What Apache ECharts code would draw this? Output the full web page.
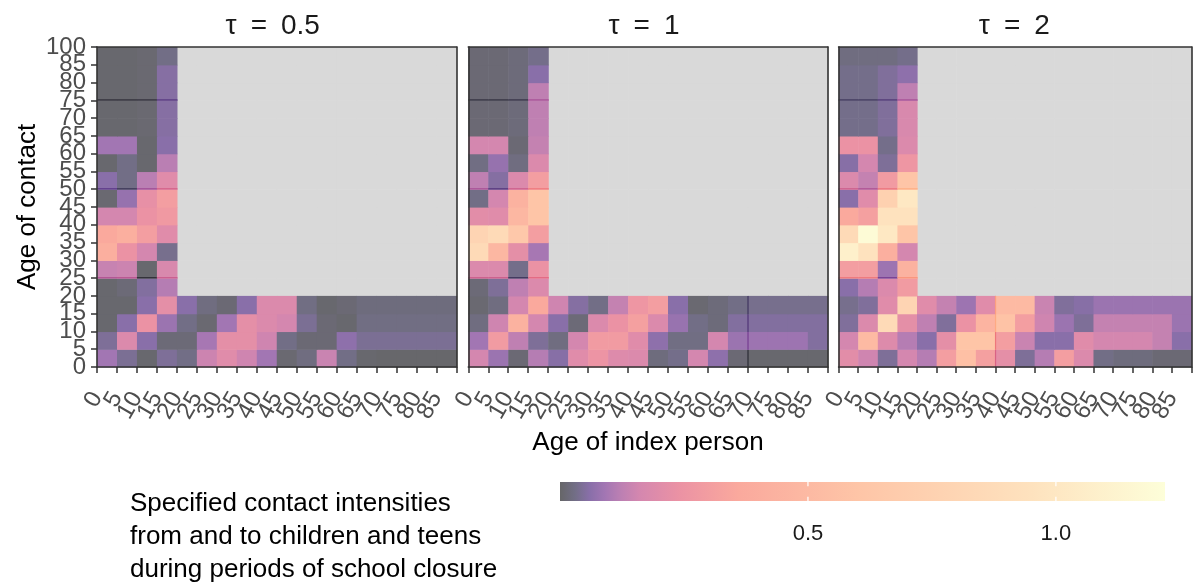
<!DOCTYPE html>
<html>
<head>
<meta charset="utf-8">
<script src="https://cdn.jsdelivr.net/npm/echarts@6/dist/echarts.min.js"></script>
<style>
  html, body { margin: 0; padding: 0; background: #ffffff; }
  #chart { width: 1193px; height: 585px; }
</style>
</head>
<body>
<div id="chart"></div>
<script>
// Tick labels: x = age of index person (5-year bands), y = age of contact (last band 85-100)
const xTickLabels = ['0','5','10','15','20','25','30','35','40','45','50','55','60','65','70','75','80','85'];
const yTickLabels = ['0','5','10','15','20','25','30','35','40','45','50','55','60','65','70','75','80','85','100'];
const panelTitles = ['\u03c4\u2002=\u20020.5', '\u03c4\u2002=\u20021', '\u03c4\u2002=\u20022'];
const legendBreaks = [0.5, 1.0];
const legendMax = 1.22;

// Contact intensities, index person aged 0-20 (columns 0,5,10,15), contact age band rows from 0 upwards
const tau05Left = [
  [0.090,0.042,0.006,0.045],
  [0.045,0.184,0.060,0.015],
  [0.006,0.060,0.240,0.081],
  [0.006,0.006,0.060,0.216],
  [0.006,0.015,0.051,0.114],
  [0.140,0.148,0.006,0.176],
  [0.408,0.240,0.160,0.036],
  [0.360,0.408,0.300,0.200],
  [0.160,0.160,0.240,0.276],
  [0.009,0.075,0.224,0.300],
  [0.060,0.030,0.120,0.200],
  [0.006,0.030,0.006,0.120],
  [0.090,0.090,0.006,0.060],
  [0.006,0.006,0.009,0.055],
  [0.006,0.006,0.009,0.055],
  [0.006,0.006,0.009,0.055],
  [0.006,0.006,0.009,0.055],
  [0.006,0.006,0.009,0.030]
];
// Contacts aged 0-20 (rows 0..3) of index persons aged 20..85
const tau05Bottom = [
  [0.030,0.148,0.200,0.152,0.090,0.009,0.024,0.144,0.030,0.006,0.003,0.003,0.003,0.003],
  [0.015,0.096,0.216,0.216,0.152,0.030,0.012,0.012,0.066,0.042,0.042,0.042,0.042,0.042],
  [0.030,0.009,0.090,0.216,0.184,0.160,0.042,0.012,0.006,0.027,0.027,0.027,0.027,0.027],
  [0.060,0.024,0.012,0.060,0.184,0.184,0.027,0.006,0.012,0.021,0.021,0.021,0.021,0.021]
];

const tau1Left = [
  [0.160,0.081,0.012,0.114],
  [0.090,0.288,0.128,0.045],
  [0.024,0.152,0.432,0.160],
  [0.009,0.024,0.160,0.360],
  [0.015,0.045,0.128,0.184],
  [0.184,0.184,0.033,0.240],
  [0.845,0.480,0.216,0.096],
  [0.775,0.845,0.635,0.300],
  [0.208,0.200,0.480,0.600],
  [0.030,0.160,0.432,0.600],
  [0.128,0.054,0.184,0.300],
  [0.027,0.075,0.024,0.184],
  [0.160,0.160,0.012,0.136],
  [0.012,0.012,0.018,0.128],
  [0.012,0.012,0.018,0.128],
  [0.012,0.012,0.018,0.128],
  [0.012,0.012,0.018,0.060],
  [0.012,0.012,0.018,0.033]
];
const tau1Bottom = [
  [0.057,0.200,0.252,0.192,0.184,0.021,0.033,0.160,0.066,0.012,0.006,0.006,0.006,0.006],
  [0.024,0.160,0.288,0.288,0.200,0.066,0.027,0.027,0.160,0.081,0.084,0.084,0.084,0.051],
  [0.060,0.015,0.184,0.240,0.312,0.184,0.078,0.030,0.018,0.051,0.051,0.051,0.051,0.051],
  [0.152,0.054,0.030,0.136,0.264,0.300,0.060,0.009,0.018,0.030,0.036,0.036,0.036,0.036]
];

const tau2Left = [
  [0.208,0.152,0.045,0.160],
  [0.160,0.504,0.192,0.114],
  [0.048,0.184,0.845,0.216],
  [0.036,0.048,0.200,0.775],
  [0.060,0.114,0.184,0.288],
  [0.300,0.300,0.084,0.432],
  [1.085,0.950,0.408,0.160],
  [0.845,1.193,1.004,0.600],
  [0.360,0.312,0.950,0.950],
  [0.060,0.200,0.740,1.004],
  [0.184,0.136,0.288,0.600],
  [0.057,0.160,0.045,0.264],
  [0.240,0.240,0.033,0.184],
  [0.033,0.033,0.048,0.176],
  [0.033,0.033,0.048,0.176],
  [0.033,0.033,0.048,0.128],
  [0.033,0.033,0.048,0.066],
  [0.024,0.024,0.024,0.033]
];
const tau2Bottom = [
  [0.114,0.300,0.552,0.312,0.216,0.045,0.114,0.300,0.184,0.030,0.021,0.021,0.012,0.012],
  [0.060,0.216,0.600,0.600,0.300,0.144,0.060,0.060,0.200,0.160,0.160,0.160,0.136,0.060],
  [0.128,0.048,0.240,0.456,0.576,0.300,0.152,0.081,0.045,0.136,0.136,0.136,0.136,0.081],
  [0.200,0.136,0.084,0.200,0.504,0.504,0.144,0.048,0.057,0.081,0.081,0.081,0.081,0.081]
];

const panels = [
  { left: tau05Left, bottom: tau05Bottom, rowSeams: [5, 10, 15], colSeams: [] },
  { left: tau1Left,  bottom: tau1Bottom,  rowSeams: [5, 10, 15], colSeams: [14] },
  { left: tau2Left,  bottom: tau2Bottom,  rowSeams: [5, 10, 15], colSeams: [8] }
];

// ---- colour scale: magma (alpha 0.6 over white) with stretched low end ----
const MAGMA = ['#000004','#140e36','#3b0f70','#641a80','#8c2981','#b73779',
               '#de4968','#f7705c','#fe9f6d','#fecf92','#fcfdbf'];
const SCALE_VALUES = [0, 0.03, 0.06, 0.09, 0.12, 0.16, 0.24, 0.36, 0.60, 0.95, 1.22];
const FILL_ALPHA = 0.6;
const NA_COLOR = '#d9d9d9';

function hexRgb(h) {
  return [parseInt(h.slice(1,3),16), parseInt(h.slice(3,5),16), parseInt(h.slice(5,7),16)];
}
function rgbStr(c) { return 'rgb(' + c.map(Math.round).join(',') + ')'; }
function magmaRaw(v) {
  v = Math.max(0, Math.min(SCALE_VALUES[SCALE_VALUES.length - 1], v));
  let k = 0;
  while (k < SCALE_VALUES.length - 2 && v > SCALE_VALUES[k + 1]) k++;
  const t = (v - SCALE_VALUES[k]) / (SCALE_VALUES[k + 1] - SCALE_VALUES[k]);
  const a = hexRgb(MAGMA[k]), b = hexRgb(MAGMA[k + 1]);
  return a.map((x, i) => x + (b[i] - x) * t);
}
function over(c, alpha) { return c.map(x => alpha * x + (1 - alpha) * 255); }
function cellColor(v) { return rgbStr(over(magmaRaw(v), FILL_ALPHA)); }
// where two translucent tiles overlap the alpha compounds
function seamColor(v) { return rgbStr(over(magmaRaw(v), 1 - (1 - FILL_ALPHA) * (1 - FILL_ALPHA))); }

// ---- layout ----
const PANEL_LEFT = [97, 468.3, 838.6];
const GRID_TOP = 47, GRID_W = 359.5, GRID_H = 320;
const NX = xTickLabels.length, NY = yTickLabels.length - 1;
const FONT = 'Liberation Sans, Arial, sans-serif';
const TICK_FONT = { fontFamily: FONT, fontSize: 24, color: '#4d4d4d' };
const FRAME = { show: true, lineStyle: { color: '#333333', width: 1.6 } };
// band edges of the x axis: every tick is labelled except the closing edge
const xEdges = xTickLabels.concat(['']);

const grids = [], xAxes = [], yAxes = [], series = [];

panels.forEach((p, i) => {
  grids.push({ left: PANEL_LEFT[i], top: GRID_TOP, width: GRID_W, height: GRID_H });
  const cells = [];
  p.left.forEach((row, r) => row.forEach((v, c) => cells.push([c, r, v])));
  p.bottom.forEach((row, r) => row.forEach((v, c) => cells.push([c + 4, r, v])));
  const missing = [];
  for (let r = 4; r < NY; r++) for (let c = 4; c < NX; c++) missing.push([c, r]);

  series.push({
    type: 'custom', xAxisIndex: i, yAxisIndex: i, z: 2, silent: true,
    data: missing,
    renderItem: (params, api) => {
      const c = api.value(0), r = api.value(1);
      const a = api.coord([c, r + 1]), b = api.coord([c + 1, r]);
      return { type: 'rect', shape: { x: a[0], y: a[1], width: b[0] - a[0] + 0.6, height: b[1] - a[1] + 0.6 },
               style: { fill: NA_COLOR } };
    }
  });
  series.push({
    type: 'custom', xAxisIndex: i, yAxisIndex: i, z: 3, silent: true,
    data: cells,
    renderItem: (params, api) => {
      const c = api.value(0), r = api.value(1), v = api.value(2);
      const a = api.coord([c, r + 1]), b = api.coord([c + 1, r]);
      const children = [{ type: 'rect',
        shape: { x: a[0], y: a[1], width: b[0] - a[0] + 0.6, height: b[1] - a[1] + 0.6 },
        style: { fill: cellColor(v) } }];
      if (c < 4 && p.rowSeams.indexOf(r) >= 0) {
        children.push({ type: 'rect', shape: { x: a[0], y: b[1] - 1, width: b[0] - a[0] + 0.6, height: 1.2 },
                        style: { fill: seamColor(v) } });
      }
      if (r < 4 && p.colSeams.indexOf(c) >= 0) {
        children.push({ type: 'rect', shape: { x: a[0] - 0.5, y: a[1], width: 1.2, height: b[1] - a[1] + 0.6 },
                        style: { fill: seamColor(v) } });
      }
      return { type: 'group', children };
    }
  });

  xAxes.push({
    type: 'category', gridIndex: i, data: xEdges, boundaryGap: false, z: 10,
    axisLine: FRAME, splitLine: { show: false },
    axisTick: { show: true, interval: 0, length: 6, lineStyle: { color: '#333333', width: 1.5 } },
    axisLabel: Object.assign({ rotate: 60, margin: 27, interval: 0 }, TICK_FONT)
  });
  yAxes.push({
    type: 'category', gridIndex: i, data: yTickLabels, boundaryGap: false, z: 10,
    axisLine: FRAME, splitLine: { show: false },
    axisTick: { show: i === 0, interval: 0, length: 6, lineStyle: { color: '#333333', width: 1.5 } },
    axisLabel: Object.assign({ show: i === 0, margin: 11, interval: 0 }, TICK_FONT)
  });
});

// frame: top and right edges of each panel
panels.forEach((p, i) => {
  xAxes.push({ type: 'value', gridIndex: i, position: 'top', min: 0, max: NX, z: 10,
    axisLine: FRAME, axisTick: { show: false }, axisLabel: { show: false }, splitLine: { show: false } });
  yAxes.push({ type: 'value', gridIndex: i, position: 'right', min: 0, max: NY, z: 10,
    axisLine: FRAME, axisTick: { show: false }, axisLabel: { show: false }, splitLine: { show: false } });
});

// colour bar legend
grids.push({ left: 560, top: 482, width: 605, height: 19 });
xAxes.push({ type: 'value', gridIndex: 3, min: 0, max: legendMax, interval: 0.5,
  axisLine: { show: false }, axisTick: { show: false }, splitLine: { show: false },
  axisLabel: { margin: 22, fontFamily: FONT, fontSize: 22, color: '#1a1a1a',
    showMaxLabel: false,
    formatter: v => (legendBreaks.indexOf(v) >= 0 ? v.toFixed(1) : '') } });
yAxes.push({ type: 'value', gridIndex: 3, min: 0, max: 1, show: false });

const gradientStops = SCALE_VALUES.map((v, k) => ({
  offset: v / legendMax, color: rgbStr(over(hexRgb(MAGMA[k]), FILL_ALPHA)) }));

series.push({
  type: 'custom', xAxisIndex: 6, yAxisIndex: 6, silent: true,
  data: [[0, legendMax]],
  renderItem: (params, api) => {
    const a = api.coord([api.value(0), 1]), b = api.coord([api.value(1), 0]);
    const h = b[1] - a[1];
    const children = [{ type: 'rect', shape: { x: a[0], y: a[1], width: b[0] - a[0], height: h },
      style: { fill: new echarts.graphic.LinearGradient(0, 0, 1, 0, gradientStops) } }];
    legendBreaks.forEach(t => {
      const x = api.coord([t, 0])[0];
      children.push({ type: 'line', shape: { x1: x, y1: a[1], x2: x, y2: a[1] + h * 0.22 },
        style: { stroke: '#ffffff', lineWidth: 1.2 } });
      children.push({ type: 'line', shape: { x1: x, y1: b[1] - h * 0.22, x2: x, y2: b[1] },
        style: { stroke: '#ffffff', lineWidth: 1.2 } });
    });
    return { type: 'group', children };
  }
});

const graphic = [];
panelTitles.forEach((t, i) => {
  graphic.push({ type: 'text', x: PANEL_LEFT[i] + GRID_W / 2 - 4, y: 26,
    style: { text: t, fontFamily: FONT, fontSize: 28, fill: '#1a1a1a', align: 'center', verticalAlign: 'middle' } });
});
graphic.push({ type: 'text', x: 648, y: 443,
  style: { text: 'Age of index person', fontFamily: FONT, fontSize: 26, fill: '#000000', align: 'center', verticalAlign: 'middle' } });
graphic.push({ type: 'text', x: 28, y: 207, rotation: Math.PI / 2,
  style: { text: 'Age of contact', fontFamily: FONT, fontSize: 26, fill: '#000000', align: 'center', verticalAlign: 'middle' } });
graphic.push({ type: 'text', x: 130, y: 487,
  style: { text: 'Specified contact intensities\nfrom and to children and teens\nduring periods of school closure',
    fontFamily: FONT, fontSize: 26, lineHeight: 33, fill: '#000000', align: 'left', verticalAlign: 'top' } });

const chart = echarts.init(document.getElementById('chart'), null, { renderer: 'canvas' });
chart.setOption({
  animation: false,
  backgroundColor: '#ffffff',
  grid: grids,
  xAxis: xAxes,
  yAxis: yAxes,
  series: series,
  graphic: graphic
});
</script>
</body>
</html>
